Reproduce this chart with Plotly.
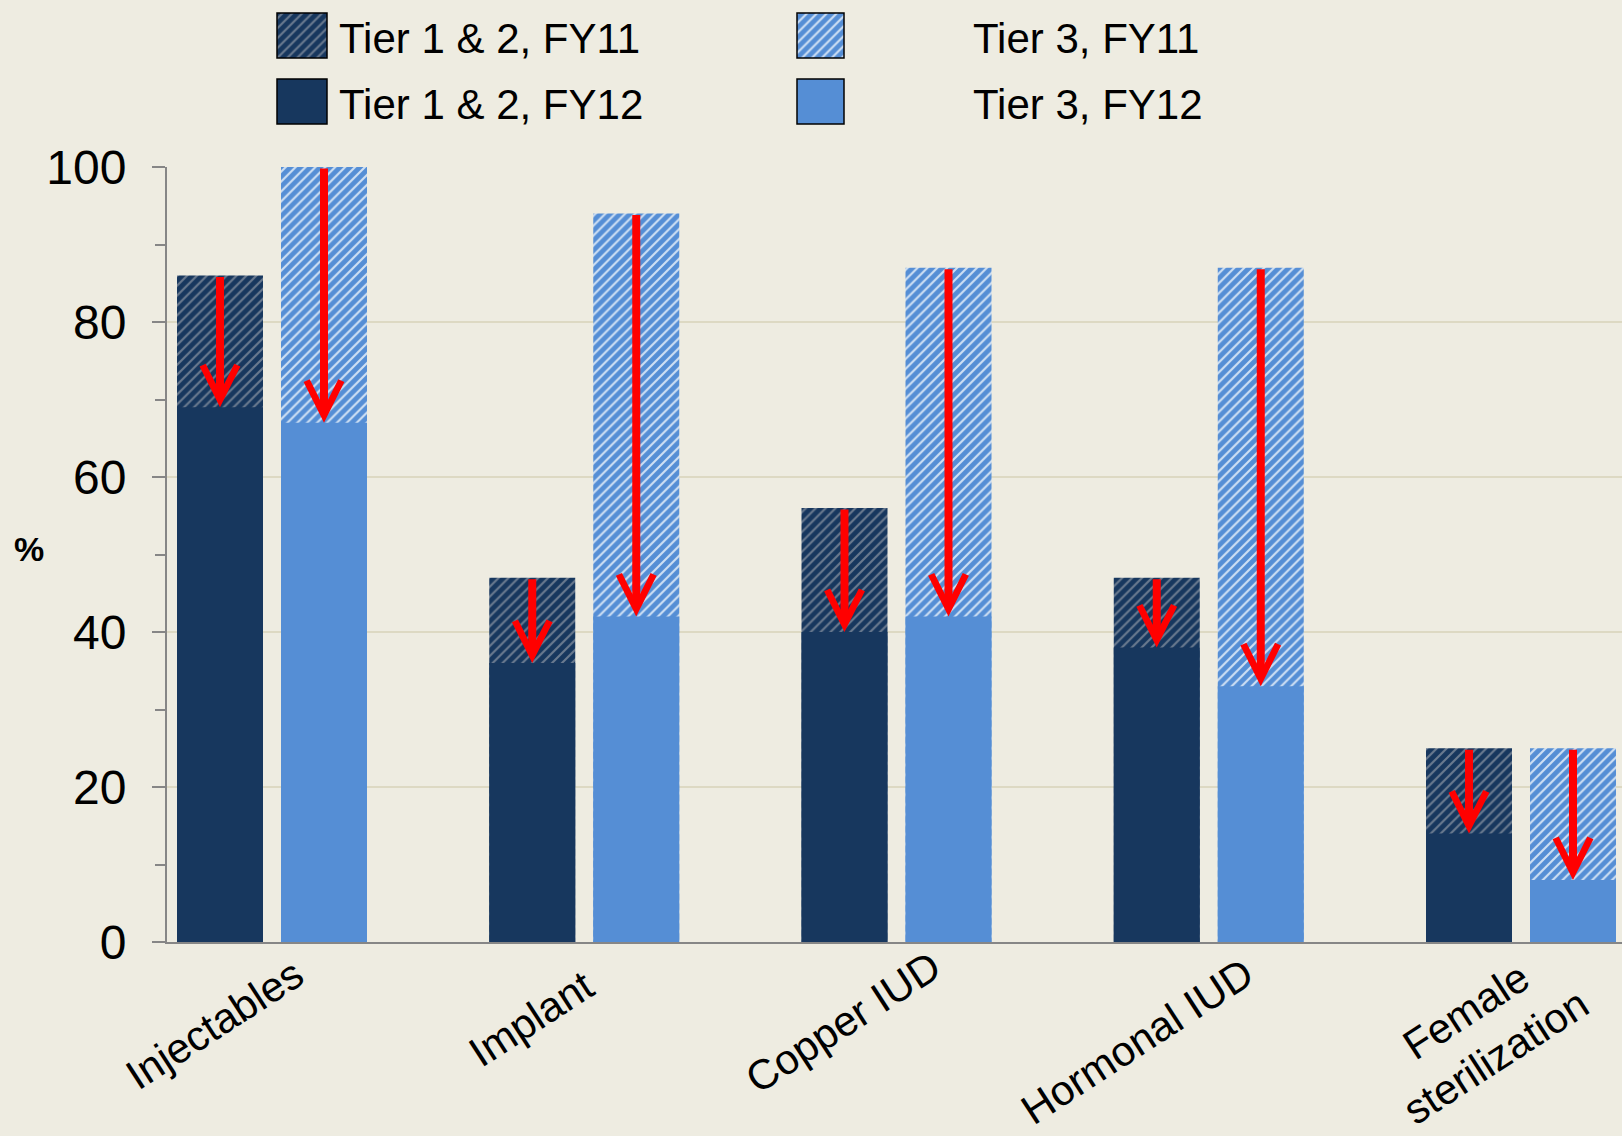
import plotly.graph_objects as go

# ---- data -------------------------------------------------------------
categories = ["Injectables", "Implant", "Copper IUD", "Hormonal IUD", "Female<br>sterilization"]
tier12_fy11 = [86, 47, 56, 47, 25]
tier12_fy12 = [69, 36, 40, 38, 14]
tier3_fy11 = [100, 94, 87, 87, 25]
tier3_fy12 = [67, 42, 42, 33, 8]
y_ticks = [0, 20, 40, 60, 80, 100]
series_names = ["Tier 1 & 2, FY11", "Tier 3, FY11", "Tier 1 & 2, FY12", "Tier 3, FY12"]

# ---- style ------------------------------------------------------------
W, H = 1622, 1136
M_L, M_R, M_T, M_B = 167, 0, 0, 194
PLOT_W, PLOT_H = W - M_L - M_R, H - M_T - M_B
BG = "#EEECE1"
DARK = "#17375E"
LIGHT = "#558ED5"
DARK_HATCH = "#6A7A8F"
LIGHT_HATCH = "#CFE0F4"
AXIS = "#868686"
GRID = "#DDD9C3"
FONT = "Liberation Sans, Arial, sans-serif"

UNIT_PX = 312.25          # pixels per category
FIRST_CAT_PX = 272        # centre of first category from left page edge
BAR_W = 86 / UNIT_PX
DARK_OFF = (177 - FIRST_CAT_PX) / UNIT_PX
LIGHT_OFF = (281 - FIRST_CAT_PX) / UNIT_PX
X_RANGE = [(M_L - FIRST_CAT_PX) / UNIT_PX, (W - M_R - FIRST_CAT_PX) / UNIT_PX]
Y_TOP_FRAC = 775 / PLOT_H

xs = list(range(len(categories)))


def hatch(bg, fg):
    return dict(shape="/", bgcolor=bg, fgcolor=fg, size=7, solidity=0.3, fillmode="replace")


fig = go.Figure()

# FY11 (hatched) behind, FY12 (solid) in front
fig.add_trace(go.Bar(x=xs, y=tier12_fy11, name=series_names[0], width=BAR_W, offset=DARK_OFF,
                     marker=dict(color=DARK, pattern=hatch(DARK, DARK_HATCH), line=dict(width=0))))
fig.add_trace(go.Bar(x=xs, y=tier3_fy11, name=series_names[1], width=BAR_W, offset=LIGHT_OFF,
                     marker=dict(color=LIGHT, pattern=hatch(LIGHT, LIGHT_HATCH), line=dict(width=0))))
fig.add_trace(go.Bar(x=xs, y=tier12_fy12, name=series_names[2], width=BAR_W, offset=DARK_OFF,
                     marker=dict(color=DARK, line=dict(width=0))))
fig.add_trace(go.Bar(x=xs, y=tier3_fy12, name=series_names[3], width=BAR_W, offset=LIGHT_OFF,
                     marker=dict(color=LIGHT, line=dict(width=0))))

annotations = []

# red arrows from the FY11 level down to the FY12 level
for i in xs:
    for off, top, bottom in ((DARK_OFF, tier12_fy11[i], tier12_fy12[i]),
                             (LIGHT_OFF, tier3_fy11[i], tier3_fy12[i])):
        cx = i + off + BAR_W / 2
        annotations.append(dict(
            x=cx, y=bottom, ax=cx, ay=top, xref="x", yref="y", axref="x", ayref="y",
            text="", showarrow=True, arrowhead=5, arrowsize=0.85, arrowwidth=8,
            arrowcolor="#FF0000", standoff=0, startstandoff=0))

# rotated category labels
label_shift = [(-58, -82), (-53, -76), (-54, -80), (-72, -99), (-40, -92)]
for i, (name, (dx, dy)) in enumerate(zip(categories, label_shift)):
    annotations.append(dict(
        x=i, y=0, xref="x", yref="y", text=name, showarrow=False, textangle=-33,
        xanchor="center", yanchor="middle", xshift=dx, yshift=dy, align="center",
        font=dict(family=FONT, size=42, color="black")))

# axis title
annotations.append(dict(
    x=(29 - M_L) / PLOT_W, y=(PLOT_H - 549) / PLOT_H, xref="paper", yref="paper",
    text="<b>%</b>", showarrow=False, xanchor="center", yanchor="middle",
    font=dict(family=FONT, size=34, color="black")))

# ---- legend drawn on its own small axes (page pixel units) -------------
LEG_FRAC = 0.85
leg_span = PLOT_H * (1 - LEG_FRAC)
legend_items = [
    # name, swatch centre x, width, row top, row height, fill, pattern, text x
    (series_names[0], 302, 50, 13, 45, DARK, hatch(DARK, DARK_HATCH), 337),
    (series_names[1], 820.5, 47, 13, 45, LIGHT, hatch(LIGHT, LIGHT_HATCH), 971),
    (series_names[2], 302, 50, 79, 45, DARK, None, 337),
    (series_names[3], 820.5, 47, 79, 45, LIGHT, None, 971),
]
for name, cx, w, top, h, col, pat, tx in legend_items:
    mk = dict(color=col, line=dict(color="black", width=1.5))
    if pat:
        mk["pattern"] = pat
    fig.add_trace(go.Bar(x=[cx], y=[h], base=[top], width=w, xaxis="x2", yaxis="y2",
                         marker=mk, showlegend=False, hoverinfo="skip"))
    annotations.append(dict(
        x=tx, y=top + h / 2 + 3, xref="x2", yref="y2", text=name, showarrow=False,
        xanchor="left", yanchor="middle", font=dict(family=FONT, size=42, color="black")))

fig.update_layout(
    width=W, height=H, autosize=False,
    margin=dict(l=M_L, r=M_R, t=M_T, b=M_B, pad=0, autoexpand=False),
    paper_bgcolor=BG, plot_bgcolor=BG,
    barmode="overlay", showlegend=False,
    font=dict(family=FONT, color="black"),
    xaxis=dict(range=X_RANGE, showticklabels=False, ticks="", showgrid=False, zeroline=False,
               showline=True, linecolor=AXIS, linewidth=2, fixedrange=True, automargin=False),
    yaxis=dict(domain=[0, Y_TOP_FRAC], range=[0, 100], tickvals=y_ticks,
               ticks="outside", ticklen=13, tickwidth=2, tickcolor=AXIS,
               ticklabelstandoff=16, automargin=False,
               tickfont=dict(family=FONT, size=48, color="black"),
               showgrid=True, gridcolor=GRID, gridwidth=2, zeroline=False,
               showline=True, linecolor=AXIS, linewidth=2,
               minor=dict(dtick=10, ticks="outside", ticklen=10, tickwidth=2, tickcolor=AXIS,
                          showgrid=False)),
    xaxis2=dict(domain=[0, 1], range=[M_L, W - M_R], visible=False, anchor="y2",
                fixedrange=True, automargin=False),
    yaxis2=dict(domain=[LEG_FRAC, 1], range=[leg_span, 0], visible=False, anchor="x2",
                fixedrange=True, automargin=False),
    annotations=annotations,
)

fig.write_html("out.html")
